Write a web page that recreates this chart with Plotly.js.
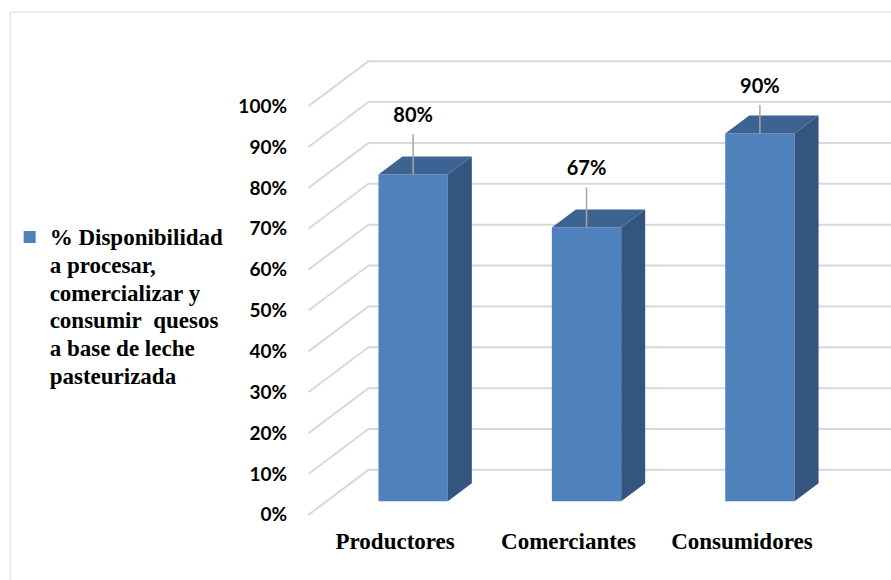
<!DOCTYPE html>
<html>
<head>
<meta charset="utf-8">
<script src="https://cdn.plot.ly/plotly-3.0.1.min.js"></script>
<style>html,body{margin:0;padding:0;background:#fff;}#chart{width:891px;height:580px;}</style>
</head>
<body>
<div id="chart"></div>
<script>
// ---- data ----
const categories = ['Productores', 'Comerciantes', 'Consumidores'];
const values = [80, 67, 90];
const yTickValues = [0, 10, 20, 30, 40, 50, 60, 70, 80, 90, 100];
const yTickLabels = ['0%', '10%', '20%', '30%', '40%', '50%', '60%', '70%', '80%', '90%', '100%'];
const seriesName = '% Disponibilidad<br>a procesar,<br>comercializar y<br>consumir\u00a0 quesos<br>a base de leche<br>pasteurizada';

// ---- 3D projection style constants ----
const DEPTH_X = 0.346;   // x shift (category units) for full depth
const DEPTH_Y = 11;      // y shift (value units) for full depth
const D_FRONT = 0.3, D_BACK = 0.7, HALF = 0.2;
const X_LEFT = -0.5, X_RIGHT = 2.86;
const FRONT = '#4F81BD', SIDE = '#34557F', TOP = '#3C6391';
const SERIF = '"Liberation Serif", "Times New Roman", Times, serif';
const SANS = 'Lato, "Open Sans", sans-serif';

const P = (c, v, d) => [c + d * DEPTH_X, v + d * DEPTH_Y];
const idx = categories.map((_, i) => i);

// gridlines (back wall + side wall), drawn below traces
const shapes = yTickValues.map(v => {
  const a = P(X_LEFT, v, 0), b = P(X_LEFT, v, 1);
  return {type: 'path', xref: 'x', yref: 'y', layer: 'below',
    path: `M${a[0]},${a[1]} L${b[0]},${b[1]} L${X_RIGHT},${b[1]}`,
    line: {color: '#d9d9d9', width: 2}};
});
shapes.push({type: 'rect', xref: 'paper', yref: 'paper', layer: 'below',
  x0: -0.503, x1: 1.01, y0: -0.2, y1: 1.087, line: {color: '#d9d9d9', width: 1}});

// side and top faces
const sideX = [], sideY = [], topX = [], topY = [];
idx.forEach(i => {
  const v = values[i];
  [P(i + HALF, 0, D_FRONT), P(i + HALF, 0, D_BACK), P(i + HALF, v, D_BACK), P(i + HALF, v, D_FRONT)]
    .forEach(p => { sideX.push(p[0]); sideY.push(p[1]); });
  sideX.push(null); sideY.push(null);
  [P(i - HALF, v, D_FRONT), P(i + HALF, v, D_FRONT), P(i + HALF, v, D_BACK), P(i - HALF, v, D_BACK)]
    .forEach(p => { topX.push(p[0]); topY.push(p[1]); });
  topX.push(null); topY.push(null);
});

// labels and leader lines
const labelY = values.map(v => Math.min(v + 17.3, 104.5));
const leadX = [], leadY = [];
idx.forEach(i => {
  const base = P(i, values[i], D_FRONT);
  leadX.push(base[0], base[0], null);
  leadY.push(base[1], labelY[i] - 4.2, null);
});

const legendName = seriesName.split('<br>').map(s => '<span style="font-size:23px">' + s + '</span>').join('<br>');

const traces = [
  {type: 'bar', name: legendName, x: idx.map(i => P(i, 0, D_FRONT)[0]), y: values,
   base: D_FRONT * DEPTH_Y, width: 2 * HALF, marker: {color: FRONT},
   hoverinfo: 'skip', showlegend: true},
  {type: 'scatter', mode: 'lines', x: sideX, y: sideY, fill: 'toself', fillcolor: SIDE,
   line: {width: 0, color: SIDE}, hoverinfo: 'skip', showlegend: false},
  {type: 'scatter', mode: 'lines', x: topX, y: topY, fill: 'toself', fillcolor: TOP,
   line: {width: 0, color: TOP}, hoverinfo: 'skip', showlegend: false},
  {type: 'scatter', mode: 'lines', x: leadX, y: leadY, line: {color: '#a6a6a6', width: 1.5},
   hoverinfo: 'skip', showlegend: false},
  {type: 'scatter', mode: 'text', x: idx.map(i => P(i, 0, D_FRONT)[0]), y: labelY,
   text: values.map(v => v + '%'), textposition: 'middle center', cliponaxis: false,
   textfont: {family: SANS, size: 20, color: '#000', weight: 'bold'},
   hoverinfo: 'skip', showlegend: false}
];

const layout = {
  width: 891, height: 580,
  margin: {l: 305, r: 0, t: 53, b: 57, pad: 0},
  paper_bgcolor: '#fff', plot_bgcolor: 'rgba(0,0,0,0)',
  showlegend: true,
  legend: {x: -0.504, xanchor: 'left', y: 0.652, yanchor: 'top', valign: 'top',
    bgcolor: 'rgba(0,0,0,0)', borderwidth: 0,
    font: {family: SERIF, size: 21.3, color: '#000', weight: 'bold'}},
  xaxis: {range: [-0.52, X_RIGHT], tickmode: 'array', tickvals: idx, ticktext: categories,
    showgrid: false, zeroline: false, showline: false, ticks: '', automargin: false,
    ticklabelstandoff: 2, fixedrange: true,
    tickfont: {family: SERIF, size: 23, color: '#000', weight: 'bold'}},
  yaxis: {range: [-2, 113], tickmode: 'array', tickvals: yTickValues, ticktext: yTickLabels,
    showgrid: false, zeroline: false, showline: false, ticks: '', automargin: false,
    ticklabelstandoff: 17, fixedrange: true,
    tickfont: {family: SANS, size: 19, color: '#000', weight: 'bold'}},
  shapes: shapes
};

Plotly.newPlot('chart', traces, layout, {staticPlot: true, displayModeBar: false});
</script>
</body>
</html>
